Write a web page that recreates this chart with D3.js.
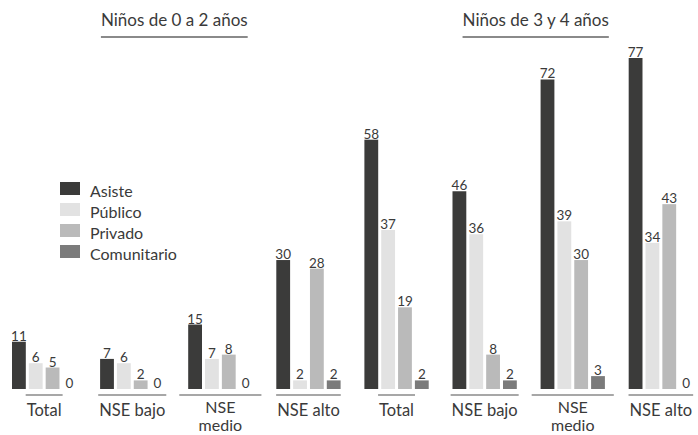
<!DOCTYPE html>
<html><head><meta charset="utf-8">
<script src="https://cdn.jsdelivr.net/npm/d3@7"></script>
<style>
body{margin:0;background:#fff;}
svg{display:block;font-family:Lato, "Open Sans", sans-serif;}
</style></head>
<body><svg id="chart" width="698" height="435"></svg>
<script>
const categories = ["Total 0-2","NSE bajo 0-2","NSE medio 0-2","NSE alto 0-2","Total 3-4","NSE bajo 3-4","NSE medio 3-4","NSE alto 3-4"];
const categoryLabels = ["Total","NSE bajo","NSE medio","NSE alto","Total","NSE bajo","NSE medio","NSE alto"];
const seriesNames = ["Asiste","Público","Privado","Comunitario"];
const asiste      = [11, 7, 15, 30, 58, 46, 72, 77];
const publico     = [6, 6, 7, 2, 37, 36, 39, 34];
const privado     = [5, 2, 8, 28, 19, 8, 30, 43];
const comunitario = [0, 0, 0, 2, 2, 2, 3, 0];
const headers = ["Niños de 0 a 2 años","Niños de 3 y 4 años"];
const colors = ["#3b3b3a","#e2e2e2","#bababa","#7b7b7b"];

const seriesValues = [asiste, publico, privado, comunitario];
const svg = d3.select("#chart");
const textColor = "#3a3a3a";

const x0 = d3.scaleBand().domain(categories).range([12, 693]).paddingInner(0.27).paddingOuter(0);
const x1 = d3.scaleBand().domain(seriesNames).range([0, x0.bandwidth()]).paddingInner(0.18);
const y = d3.scaleLinear().domain([0, 77]).range([389, 58]);

const data = categories.map((c, i) => ({cat: c, label: categoryLabels[i], vals: seriesNames.map((s, j) => ({s, v: seriesValues[j][i], j}))}));

const g = svg.selectAll("g.grp").data(data).join("g").attr("class","grp")
  .attr("transform", d => `translate(${x0(d.cat)},0)`);

g.selectAll("rect").data(d => d.vals).join("rect")
  .attr("x", d => x1(d.s)).attr("width", x1.bandwidth())
  .attr("y", d => y(d.v)).attr("height", d => y(0) - y(d.v))
  .attr("fill", d => colors[d.j]);

g.selectAll("text.val").data(d => d.vals).join("text").attr("class","val")
  .attr("x", d => x1(d.s) + x1.bandwidth()/2)
  .attr("y", d => y(d.v) - 1)
  .attr("text-anchor","middle").attr("font-size", 13.5).attr("fill", textColor)
  .text(d => d.v);

// category labels with underline
data.forEach(d => {
  const cx = x0(d.cat) + x0.bandwidth()/2;
  const t = svg.append("text").attr("x", cx).attr("y", 416).attr("text-anchor","middle")
    .attr("font-size", 16.5).attr("fill", textColor).text(d.label);
  const w = t.node().getComputedTextLength();
  if (w > 72) {
    const words = d.label.split(" ");
    t.attr("y", 413).attr("font-size", 16).text(words[0]);
    svg.append("text").attr("x", cx).attr("y", 431).attr("text-anchor","middle")
      .attr("font-size", 16).attr("fill", textColor).text(words.slice(1).join(" "));
  }
  svg.append("line").attr("x1", cx - w/2 - 1).attr("x2", cx + w/2 + 1)
    .attr("y1", 395).attr("y2", 395).attr("stroke", "#8a8a8a").attr("stroke-width", 1.5);
});

// headers
[[0,3],[4,7]].forEach((r, i) => {
  const cx = (x0(categories[r[0]]) + x0(categories[r[1]]) + x0.bandwidth())/2 + (i ? 7 : -2);
  const t = svg.append("text").attr("x", cx).attr("y", 26).attr("text-anchor","middle")
    .attr("font-size", 17).attr("fill", textColor).text(headers[i]);
  const w = t.node().getComputedTextLength();
  svg.append("line").attr("x1", cx - w/2).attr("x2", cx + w/2)
    .attr("y1", 37).attr("y2", 37).attr("stroke", "#8a8a8a").attr("stroke-width", 2);
});

// legend
const lg = svg.append("g").attr("transform","translate(60,182)");
seriesNames.forEach((s, i) => {
  lg.append("rect").attr("x", 0).attr("y", i*21).attr("width", 20).attr("height", 13).attr("fill", colors[i]);
  lg.append("text").attr("x", 30).attr("y", i*21 + 15).attr("font-size", 16).attr("fill", textColor).text(s);
});
</script></body></html>
